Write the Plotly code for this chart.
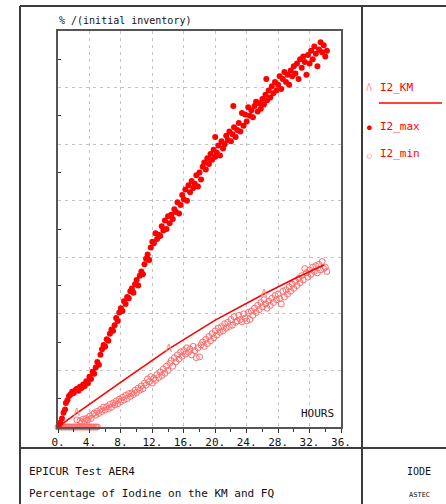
import plotly.graph_objects as go

# ---------------- data ----------------
x_ticks = [0, 4, 8, 12, 16, 20, 24, 28, 32, 36]
x_tick_labels = ["0.", "4.", "8.", "12.", "16.", "20.", "24.", "28.", "32.", "36."]

km_t = [0.0, 2.4, 8.0, 14.1, 20.0, 26.2, 30.0, 33.8]
km_v = [0.0, 0.49, 1.59, 2.76, 3.78, 4.70, 5.23, 5.73]
km_mark_t = [2.4, 14.1, 26.2]
km_mark_v = [0.49, 2.76, 4.70]

max_t = [0.1, 0.3, 0.5, 0.7, 0.9, 1.0, 1.2, 1.4, 1.6, 1.8, 2.0, 2.2, 2.4, 2.6, 2.8, 3.0,
         3.2, 3.4, 3.6, 3.8, 4.0, 4.2, 4.4, 4.6, 4.8, 5.0, 5.2, 5.4, 5.6, 5.8, 6.0, 6.2,
         6.4, 6.6, 6.8, 7.0, 7.2, 7.4, 7.6, 7.8, 8.0, 8.2, 8.4, 8.6, 8.8, 9.0, 9.2, 9.4,
         9.6, 9.8, 10.0, 10.2, 10.4, 10.6, 10.8, 11.0, 11.2, 11.4, 11.6, 11.8, 12.0, 12.2,
         12.4, 12.6, 12.8, 13.0, 13.2, 13.4, 13.6, 13.8, 14.0, 14.2, 14.4, 14.6, 14.8,
         15.0, 15.2, 15.4, 15.6, 15.8, 16.0, 16.2, 16.4, 16.6, 16.8, 17.0, 17.2, 17.4,
         17.6, 17.8, 18.0, 18.2, 18.4, 18.6, 18.8, 19.0, 19.2, 19.4, 19.6, 19.8, 20.0,
         20.2, 20.4, 20.6, 20.8, 21.0, 21.2, 21.4, 21.6, 21.8, 22.0, 22.2, 22.4, 22.6,
         22.8, 23.0, 23.2, 23.4, 23.6, 23.8, 24.0, 24.2, 24.4, 24.6, 24.8, 25.0, 25.2,
         25.4, 25.6, 25.8, 26.0, 26.2, 26.4, 26.6, 26.8, 27.0, 27.2, 27.4, 27.6, 27.8,
         28.0, 28.2, 28.4, 28.6, 28.8, 29.0, 29.2, 29.4, 29.6, 29.8, 30.0, 30.2, 30.4,
         30.6, 30.8, 31.0, 31.2, 31.4, 31.6, 31.8, 32.0, 32.2, 32.4, 32.6, 32.8, 33.0,
         33.2, 33.4, 33.6, 33.8, 34.0, 34.2, 20.0, 22.3, 26.5]
max_v = [0.05, 0.15, 0.3, 0.5, 0.62, 0.85, 0.95, 1.1, 1.15, 1.25, 1.2, 1.3, 1.35, 1.28, 1.42, 1.38,
         1.5, 1.45, 1.62, 1.55, 1.78, 1.7, 1.95, 1.88, 2.1, 2.3, 2.2, 2.55, 2.75, 2.9, 2.85, 3.1,
         3.05, 3.3, 3.45, 3.4, 3.6, 3.85, 3.75, 4.05, 4.2, 4.1, 4.45, 4.35, 4.6, 4.55, 4.8, 4.9,
         4.75, 5.05, 5.2, 5.0, 5.35, 5.5, 5.4, 5.75, 5.95, 6.1, 5.9, 6.35, 6.55, 6.5,
         6.85, 6.65, 6.8, 6.75, 7.1, 6.95, 7.3, 7.0, 7.45, 7.2, 7.5, 7.35, 7.7,
         7.6, 7.95, 7.55, 7.85, 8.2, 8.05, 8.4, 8.0, 8.55, 8.3, 8.7, 8.45, 8.6,
         8.9, 8.5, 9.0, 8.75, 9.2, 9.35, 9.1, 9.5, 9.3, 9.65, 9.45, 9.8, 9.55,
         9.7, 9.95, 9.6, 10.1, 9.85, 10.0, 10.3, 10.15, 10.45, 10.1, 10.35, 10.6, 10.25,
         10.5, 10.75, 10.45, 11.1, 10.65, 11.05, 10.8, 11.3, 11.0, 11.2, 10.95, 11.35, 11.5,
         11.15, 11.45, 11.25, 11.6, 11.4, 11.75, 11.55, 11.9, 11.65, 12.05, 11.8, 12.2, 11.9,
         12.1, 12.4, 11.95, 12.3, 12.55, 12.2, 12.45, 12.1, 12.6, 12.4, 12.75, 12.5, 12.85,
         12.3, 13.0, 12.7, 13.1, 12.9, 12.45, 13.15, 12.85, 13.3, 13.0, 13.45, 13.2, 12.75,
         13.35, 13.6, 13.25, 13.5, 13.1, 13.3, 10.25, 11.35, 12.3]

min_t = [0.0, 0.2, 0.4, 0.6, 0.8, 1.0, 1.2, 1.4, 1.6, 1.8, 2.0, 2.2, 2.4, 2.6, 2.8, 3.0,
         3.2, 3.4, 3.6, 3.8, 4.0, 4.2, 4.4, 4.6, 4.8, 5.0,
         2.4, 2.8, 3.0, 3.2, 3.4, 3.6, 3.8, 4.0, 4.2, 4.4, 4.6, 4.8, 5.0, 5.2, 5.4, 5.6,
         5.8, 6.0, 6.2, 6.4, 6.6, 6.8, 7.0, 7.2, 7.4, 7.6, 7.8, 8.0, 8.2, 8.4, 8.6, 8.8,
         9.0, 9.2, 9.4, 9.6, 9.8, 10.0, 10.2, 10.4, 10.6, 10.8, 11.0, 11.2, 11.4, 11.6,
         11.8, 12.0, 12.2, 12.4, 12.6, 12.8, 13.0, 13.2, 13.4, 13.6, 13.8, 14.0, 14.2,
         14.4, 14.6, 14.8, 15.0, 15.2, 15.4, 15.6, 15.8, 16.0, 16.2, 16.4, 16.6, 16.8,
         17.0, 17.2, 17.4, 17.6, 17.8, 18.0, 18.2, 18.4, 18.6, 18.8, 19.0, 19.2, 19.4,
         19.6, 19.8, 20.0, 20.2, 20.4, 20.6, 20.8, 21.0, 21.2, 21.4, 21.6, 21.8, 22.0,
         22.2, 22.4, 22.6, 22.8, 23.0, 23.2, 23.4, 23.6, 23.8, 24.0, 24.2, 24.4, 24.6,
         24.8, 25.0, 25.2, 25.4, 25.6, 25.8, 26.0, 26.2, 26.4, 26.6, 26.8, 27.0, 27.2,
         27.4, 27.6, 27.8, 28.0, 28.2, 28.4, 28.6, 28.8, 29.0, 29.2, 29.4, 29.6, 29.8,
         30.0, 30.2, 30.4, 30.6, 30.8, 31.0, 31.2, 31.4, 31.6, 31.8, 32.0, 32.2, 32.4,
         32.6, 32.8, 33.0, 33.2, 33.4, 33.6, 33.8, 34.0, 34.2]
min_v = [0.0, 0.0, 0.0, 0.0, 0.0, 0.0, 0.0, 0.0, 0.0, 0.0, 0.0, 0.0, 0.0, 0.0, 0.0, 0.0,
         0.0, 0.0, 0.0, 0.0, 0.0, 0.0, 0.0, 0.0, 0.0, 0.0,
         0.25, 0.22, 0.15, 0.28, 0.2, 0.3, 0.25, 0.38, 0.3, 0.45, 0.5, 0.42, 0.55, 0.48, 0.62, 0.55,
         0.7, 0.6, 0.72, 0.65, 0.8, 0.7, 0.85, 0.78, 0.92, 0.82, 0.98, 0.9, 1.05, 0.95, 1.12, 1.0,
         1.18, 1.08, 1.2, 1.15, 1.3, 1.22, 1.38, 1.3, 1.45, 1.35, 1.55, 1.48, 1.7, 1.6,
         1.78, 1.55, 1.72, 1.65, 1.85, 1.75, 1.95, 1.82, 2.05, 1.9, 2.15, 2.0, 2.25,
         2.35, 2.15, 2.45, 2.3, 2.55, 2.4, 2.65, 2.5, 2.7, 2.58, 2.8, 2.65, 2.75,
         2.55, 2.85, 2.7, 2.45, 2.8, 2.48, 2.9, 3.0, 2.85, 3.1, 2.95, 3.2, 3.05,
         3.3, 3.15, 3.4, 3.25, 3.5, 3.35, 3.55, 3.4, 3.65, 3.5, 3.7, 3.55, 3.8,
         3.6, 3.9, 3.7, 3.75, 3.95, 3.8, 3.72, 4.0, 3.85, 3.75, 4.05, 3.8, 4.1,
         3.95, 4.2, 4.05, 4.3, 4.15, 4.4, 4.25, 4.5, 4.35, 4.2, 4.45, 4.3, 4.55,
         4.4, 4.65, 4.5, 4.7, 4.55, 4.35, 4.8, 4.6, 4.85, 4.7, 4.95, 4.8, 5.05,
         4.9, 5.15, 5.0, 5.25, 5.1, 5.35, 5.2, 5.6, 5.45, 5.3, 5.55, 5.4, 5.65,
         5.5, 5.7, 5.45, 5.75, 5.55, 5.85, 5.6, 5.65, 5.5]

# ---------------- figure ----------------
W, H = 446, 504
L, R, T, B = 58, 341, 31, 427   # plot area in pixels
MONO = "DejaVu Sans Mono"
RED = "#ff0000"
PINK = "#ff6a6a"
FRAME = "#3c3c3c"
GRID = "#c4c4c4"


def px(xp):
    return (xp - L) / (R - L)


def py(yp):
    return (B - yp) / (B - T)


fig = go.Figure()
fig.add_trace(go.Scatter(x=min_t, y=min_v, mode="markers",
                         marker=dict(symbol="circle-open", size=6, color=PINK,
                                     line=dict(width=1, color=PINK)),
                         cliponaxis=False))
fig.add_trace(go.Scatter(x=max_t, y=max_v, mode="markers",
                         marker=dict(symbol="circle", size=6, color=RED)))
fig.add_trace(go.Scatter(x=km_t, y=km_v, mode="lines",
                         line=dict(color=RED, width=1.6)))
fig.add_trace(go.Scatter(x=km_mark_t, y=km_mark_v, mode="text", text=["Λ"] * 3,
                         textposition="middle center",
                         textfont=dict(family=MONO, size=11, color="#ff8a8a")))

fig.update_layout(
    width=W, height=H, showlegend=False,
    paper_bgcolor="white", plot_bgcolor="white",
    margin=dict(l=L, r=W - R, t=T, b=H - B, pad=0),
    font=dict(family=MONO, size=10, color="#111"),
)
fig.update_xaxes(
    range=[0, 36], tickvals=x_ticks, ticktext=x_tick_labels,
    showgrid=True, gridcolor=GRID, griddash="3px,4px", gridwidth=1,
    zeroline=False, showline=True, mirror=True, linecolor="#555", linewidth=1.5,
    ticks="outside", ticklen=4, tickcolor="#333",
    minor=dict(dtick=2, tick0=0, ticks="outside", ticklen=3, tickcolor="#333"),
    tickfont=dict(family=MONO, size=11, color="#111"),
)
fig.update_yaxes(
    range=[0, 14], dtick=2, tick0=0, showticklabels=False, ticks="",
    showgrid=True, gridcolor=GRID, griddash="3px,4px", gridwidth=1,
    zeroline=False, showline=True, mirror=True, linecolor="#555", linewidth=1.5,
    minor=dict(tickvals=[1, 3, 5, 7, 9, 11, 13], ticks="inside", ticklen=3,
               tickcolor="#333"),
)

# frame lines
shapes = []
for (x0, y0, x1, y1) in [(20, 6, 446, 6), (20, 6, 20, 504), (362, 6, 362, 504),
                         (20, 448, 446, 448)]:
    shapes.append(dict(type="line", xref="paper", yref="paper",
                       x0=px(x0), y0=py(y0), x1=px(x1), y1=py(y1),
                       line=dict(color=FRAME, width=2)))
# legend line under I2_KM
shapes.append(dict(type="line", xref="paper", yref="paper",
                   x0=px(379), y0=py(103), x1=px(442), y1=py(103),
                   line=dict(color=RED, width=1.5)))
fig.update_layout(shapes=shapes)

ann = []


def text(xp, yp, s, size, color="#111", xanchor="left"):
    ann.append(dict(xref="paper", yref="paper", x=px(xp), y=py(yp), text=s,
                    showarrow=False, xanchor=xanchor, yanchor="middle",
                    font=dict(family=MONO, size=size, color=color)))


text(57, 21, "% /(initial inventory)", 10)
text(336, 413, "HOURS", 11, xanchor="right")
text(27, 471, "EPICUR Test AER4", 11)
text(27, 493, "Percentage of Iodine on the KM and FQ", 11)
text(419, 472, "IODE", 10, xanchor="center")
text(419, 495, "ASTEC", 7, xanchor="center")
# legend
text(369, 87, "Λ", 10, color="#ff9a9a", xanchor="center")
text(378, 87, "I2_KM", 11, color=RED)
text(369, 127, "●", 8, color=RED, xanchor="center")
text(378, 126, "I2_max", 11, color=RED)
text(369, 155, "○", 8, color=PINK, xanchor="center")
text(378, 154, "I2_min", 11, color=RED)
fig.update_layout(annotations=ann)

fig.write_html("out.html", config={"displayModeBar": False},
               post_script="document.body.style.margin='0';document.body.style.overflow='hidden';")
